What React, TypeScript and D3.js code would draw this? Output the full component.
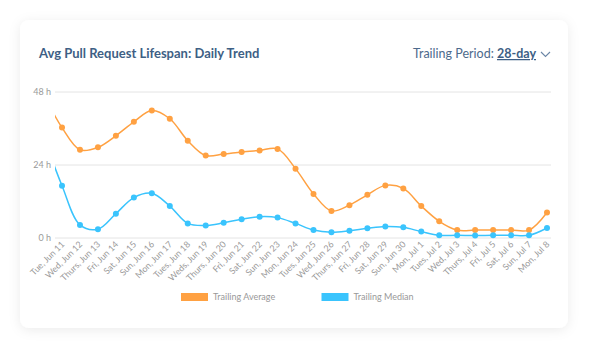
import React from "react";
import * as d3 from "d3";

// Leading "Mon, Jun 10" is only the lead-in of the curve (clipped, not labelled)
const dates = [
  "Mon, Jun 10",
  "Tue, Jun 11", "Wed, Jun 12", "Thurs, Jun 13", "Fri, Jun 14", "Sat, Jun 15", "Sun, Jun 16",
  "Mon, Jun 17", "Tues, Jun 18", "Weds, Jun 19", "Thurs, Jun 20", "Fri, Jun 21", "Sat, Jun 22",
  "Sun, Jun 23", "Mon, Jun 24", "Tues, Jun 25", "Wed, Jun 26", "Thurs, Jun 27", "Fri, Jun 28",
  "Sat, Jun 29", "Sun, Jun 30", "Mon, Jul 1", "Tues, Jul 2", "Wed, Jul 3", "Thurs, Jul 4",
  "Fri, Jul 5", "Sat, Jul 6", "Sun, Jul 7", "Mon, Jul 8",
];

const trailingAverage = [
  47,
  36.3, 29.0, 29.8, 33.6, 38.2, 41.9, 39.2, 32.0, 27.1, 27.6, 28.3, 28.8, 29.3,
  22.8, 14.5, 8.9, 10.8, 14.2, 17.3, 16.3, 10.5, 5.5, 2.6, 2.6, 2.6, 2.6, 2.6, 8.4,
];

const trailingMedian = [
  33,
  17.2, 4.3, 2.9, 8.0, 13.3, 14.7, 10.5, 4.8, 4.1, 5.0, 6.2, 7.0, 6.7,
  4.8, 2.6, 1.9, 2.4, 3.2, 3.8, 3.5, 2.1, 0.9, 0.9, 0.8, 0.9, 0.9, 0.9, 3.3,
];

const yTicks = [0, 24, 48];
const seriesNames = ["Trailing Average", "Trailing Median"];
const seriesColors = ["#ffa142", "#3ac4fd"];

const W = 589;
const H = 349;
const plotLeft = 55;
const plotRight = 551;

export default function App() {
  const x = d3
    .scalePoint<string>()
    .domain(dates)
    .range([62 - 17.95, 547]);
  const y = d3.scaleLinear().domain([0, 48]).range([238, 92]);

  const line = d3
    .line<number>()
    .x((_, i) => x(dates[i]) as number)
    .y((d) => y(d))
    .curve(d3.curveCatmullRom.alpha(0.5));

  const series = [trailingAverage, trailingMedian];
  const labelColor = "#999999";
  const font = "Lato, 'Open Sans', sans-serif";

  return (
    <svg
      width={W}
      height={H}
      style={{ position: "absolute", left: 0, top: 0, fontFamily: font }}
    >
      <defs>
        <filter id="shadow" x="-10%" y="-10%" width="120%" height="130%">
          <feDropShadow dx="0" dy="2" stdDeviation="6" floodColor="#000" floodOpacity="0.08" />
        </filter>
        <clipPath id="plotClip">
          <rect x={plotLeft} y={60} width={plotRight - plotLeft + 2} height={200} />
        </clipPath>
      </defs>
      <rect x={0} y={0} width={W} height={H} fill="#ffffff" />
      <rect
        x={20}
        y={20}
        width={548}
        height={308}
        rx={9}
        fill="#ffffff"
        filter="url(#shadow)"
      />

      <text x={39} y={58} fontSize={13} fontWeight={700} fill="#3e5f85">
        Avg Pull Request Lifespan: Daily Trend
      </text>

      <text x={536} y={58} textAnchor="end" fontSize={12.5} fill="#4d6a8c">
        <tspan>Trailing Period: </tspan>
        <tspan fontWeight={700} fill="#3e5f85" textDecoration="underline">
          28-day
        </tspan>
      </text>
      <path d="M541,52 L545.5,56.5 L550,52" fill="none" stroke="#6a86a6" strokeWidth={1.1} />

      {yTicks.map((t) => (
        <g key={t}>
          <line x1={plotLeft} x2={plotRight} y1={y(t)} y2={y(t)} stroke="#e4e4e4" strokeWidth={1} />
          <text
            x={51}
            y={y(t)}
            dy="0.35em"
            textAnchor="end"
            fontSize={9}
            fill={labelColor}
          >
            {t} h
          </text>
        </g>
      ))}

      <g clipPath="url(#plotClip)">
        {series.map((s, si) => (
          <path
            key={si}
            d={line(s) || ""}
            fill="none"
            stroke={seriesColors[si]}
            strokeWidth={1.5}
          />
        ))}
      </g>
      {series.map((s, si) =>
        s.map((v, i) =>
          i === 0 ? null : (
            <circle
              key={`${si}-${i}`}
              cx={x(dates[i])}
              cy={y(v)}
              r={3}
              fill={seriesColors[si]}
            />
          )
        )
      )}

      {dates.slice(1).map((d) => (
        <text
          key={d}
          transform={`translate(${(x(d) as number) + 3},${245}) rotate(-45)`}
          textAnchor="end"
          fontSize={8.8}
          fill={labelColor}
        >
          {d}
        </text>
      ))}

      {seriesNames.map((n, i) => {
        const lx = i === 0 ? 181 : 321.5;
        return (
          <g key={n}>
            <rect x={lx} y={293} width={27} height={8} fill={seriesColors[i]} />
            <text x={lx + 32} y={297} dy="0.35em" fontSize={9} fill={labelColor}>
              {n}
            </text>
          </g>
        );
      })}
    </svg>
  );
}
